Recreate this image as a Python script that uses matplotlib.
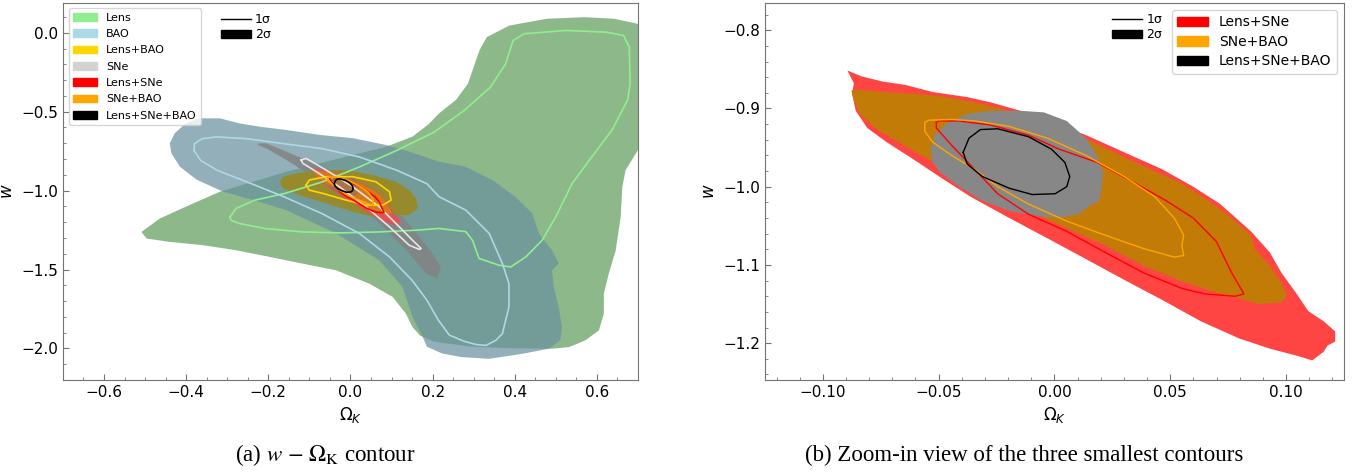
import numpy as np
import matplotlib.pyplot as plt
from matplotlib.patches import Patch
from matplotlib.lines import Line2D

# contour outlines (Omega_K, w)

# Lens 2-sigma
lens_2s = [(-0.509, -1.262), (-0.464, -1.177), (-0.401, -1.102), (-0.318, -1.007), (-0.237, -0.944),
           (-0.156, -0.880), (-0.075, -0.827), (0.006, -0.774), (0.087, -0.722), (0.151, -0.658),
           (0.19, -0.58), (0.216, -0.51), (0.257, -0.425), (0.286, -0.323), (0.314, -0.112),
           (0.332, -0.027), (0.387, 0.046), (0.478, 0.089), (0.569, 0.099), (0.642, 0.089),
           (0.693, 0.061), (0.72, 0.04), (0.72, -0.72), (0.70, -0.743), (0.67, -0.87),
           (0.662, -0.976), (0.658, -1.166), (0.646, -1.378), (0.629, -1.526), (0.617, -1.653),
           (0.617, -1.780), (0.605, -1.886), (0.572, -1.949), (0.532, -1.992), (0.491, -2.002),
           (0.40, -2.0), (0.296, -1.989), (0.204, -1.958),
           (0.17, -1.92), (0.151, -1.865), (0.135, -1.780), (0.103, -1.674), (0.046, -1.590),
           (-0.035, -1.505), (-0.116, -1.463), (-0.197, -1.420), (-0.278, -1.378), (-0.359, -1.346),
           (-0.44, -1.325), (-0.496, -1.304)]
lens_1s = [(-0.293, -1.167), (-0.279, -1.114), (-0.234, -1.061), (-0.161, -1.019), (-0.069, -0.945),
           (0.022, -0.850), (0.113, -0.745), (0.204, -0.629), (0.277, -0.492), (0.341, -0.344),
           (0.378, -0.196), (0.396, -0.049), (0.423, -0.006), (0.524, 0.015), (0.624, 0.004),
           (0.665, -0.017), (0.679, -0.091), (0.681, -0.323), (0.675, -0.425), (0.637, -0.616),
           (0.588, -0.785), (0.540, -0.954), (0.5, -1.166), (0.467, -1.314), (0.427, -1.42),
           (0.39, -1.484), (0.362, -1.473), (0.313, -1.43), (0.297, -1.314), (0.281, -1.26),
           (0.216, -1.24), (0.159, -1.251), (0.068, -1.262), (-0.024, -1.268), (-0.115, -1.262),
           (-0.206, -1.241), (-0.270, -1.209), (-0.291, -1.188)]

# BAO
bao_2s = [(-0.44, -0.701), (-0.428, -0.637), (-0.401, -0.574), (-0.369, -0.542), (-0.318, -0.542),
          (-0.27, -0.574), (-0.221, -0.595), (-0.156, -0.616), (-0.075, -0.647), (0.006, -0.668),
          (0.087, -0.711), (0.143, -0.753), (0.192, -0.796), (0.216, -0.817), (0.281, -0.849),
          (0.346, -0.934), (0.402, -1.04), (0.443, -1.145), (0.459, -1.272), (0.491, -1.378),
          (0.507, -1.462), (0.491, -1.505), (0.495, -1.611), (0.507, -1.737), (0.515, -1.864),
          (0.511, -1.949), (0.483, -2.002), (0.419, -2.034), (0.338, -2.066), (0.27, -2.055),
          (0.223, -2.032), (0.186, -1.989),
          (0.176, -1.928), (0.151, -1.801), (0.127, -1.611), (0.07, -1.441), (-0.035, -1.271),
          (-0.156, -1.124), (-0.237, -1.06), (-0.31, -1.007), (-0.375, -0.93), (-0.415, -0.849),
          (-0.436, -0.764)]
bao_1s = [(-0.381, -0.745), (-0.380, -0.703), (-0.361, -0.671), (-0.325, -0.660), (-0.252, -0.671),
          (-0.161, -0.703), (-0.069, -0.734), (0.022, -0.787), (0.113, -0.871), (0.186, -0.956),
          (0.216, -1.039), (0.281, -1.124), (0.338, -1.272), (0.37, -1.462), (0.386, -1.589),
          (0.386, -1.737), (0.37, -1.907), (0.354, -1.949), (0.33, -1.981), (0.305, -1.975),
          (0.277, -1.955), (0.241, -1.916), (0.214, -1.821), (0.186, -1.694), (0.150, -1.568),
          (0.095, -1.420), (0.022, -1.272), (-0.069, -1.146), (-0.161, -1.040), (-0.252, -0.945),
          (-0.325, -0.871), (-0.365, -0.808)]

# SNe
sne_2s = [(-0.225, -0.701), (-0.205, -0.701), (-0.156, -0.753), (-0.108, -0.806), (-0.059, -0.858),
          (0.006, -0.933), (0.07, -1.039), (0.127, -1.166), (0.168, -1.293), (0.2, -1.398),
          (0.22, -1.483), (0.212, -1.557), (0.184, -1.526), (0.143, -1.398), (0.095, -1.271),
          (0.038, -1.124), (-0.027, -1.018), (-0.091, -0.912), (-0.156, -0.806), (-0.205, -0.732),
          (-0.225, -0.711)]
sne_1s = [(-0.12, -0.806), (-0.108, -0.796), (-0.059, -0.87), (0.006, -0.976), (0.07, -1.102),
          (0.119, -1.23), (0.151, -1.314), (0.172, -1.367), (0.168, -1.373), (0.143, -1.346),
          (0.095, -1.23), (0.038, -1.102), (-0.027, -0.976), (-0.083, -0.88), (-0.116, -0.827)]

# Lens+BAO
lb_2s = [(-0.172, -0.944), (-0.164, -0.912), (-0.132, -0.891), (-0.075, -0.87), (-0.011, -0.87),
         (0.054, -0.901), (0.111, -0.944), (0.143, -0.997), (0.16, -1.05), (0.164, -1.113),
         (0.143, -1.155), (0.103, -1.155), (0.054, -1.166), (0.006, -1.134), (-0.059, -1.081),
         (-0.124, -1.028), (-0.164, -0.986)]
lb_1s = [(-0.108, -0.965), (-0.1, -0.933), (-0.059, -0.912), (0.006, -0.912), (0.062, -0.944),
         (0.095, -1.007), (0.099, -1.06), (0.079, -1.092), (0.038, -1.092), (-0.011, -1.06),
         (-0.067, -1.018), (-0.1, -0.997)]

# Lens+SNe
ls_2s = [(-0.0894, -0.8515), (-0.0833, -0.859), (-0.0742, -0.8656), (-0.0642, -0.870), (-0.0526, -0.879),
         (-0.0377, -0.8855), (-0.0278, -0.892), (-0.0146, -0.903), (-0.003, -0.916), (0.0136, -0.934),
         (0.0301, -0.956), (0.0467, -0.978), (0.0599, -1.0), (0.0715, -1.022), (0.0848, -1.057),
         (0.093, -1.084), (0.098, -1.110), (0.1046, -1.137), (0.1096, -1.159), (0.1162, -1.172),
         (0.1212, -1.185), (0.1212, -1.198), (0.1179, -1.203), (0.1162, -1.211), (0.1113, -1.222),
         (0.1046, -1.216), (0.093, -1.207), (0.0798, -1.194), (0.0632, -1.172), (0.0467, -1.145),
         (0.0301, -1.119), (0.0136, -1.0925), (-0.003, -1.066), (-0.0195, -1.040), (-0.0361, -1.013),
         (-0.0477, -0.991), (-0.0609, -0.965), (-0.0725, -0.943), (-0.0808, -0.925), (-0.0858, -0.903),
         (-0.0874, -0.881), (-0.0866, -0.868)]
ls_1s = [(-0.051, -0.918), (-0.0502, -0.916), (-0.0411, -0.916), (-0.0278, -0.921), (-0.0113, -0.934),
         (0.002, -0.952), (0.0185, -0.969), (0.0351, -0.996), (0.0483, -1.018), (0.0599, -1.040),
         (0.0699, -1.070), (0.0765, -1.110), (0.0818, -1.137), (0.0781, -1.140), (0.0649, -1.137),
         (0.055, -1.130), (0.0384, -1.110), (0.0219, -1.084), (0.0053, -1.057), (-0.0113, -1.035),
         (-0.0245, -1.009), (-0.0344, -0.978), (-0.0444, -0.947), (-0.051, -0.925)]

# SNe+BAO
sb_2s = [(-0.0877, -0.877), (-0.0841, -0.876), (-0.0742, -0.879), (-0.0609, -0.881), (-0.0477, -0.885),
         (-0.0344, -0.892), (-0.0245, -0.899), (-0.0113, -0.912), (0.002, -0.925), (0.0152, -0.941),
         (0.0285, -0.960), (0.0417, -0.978), (0.055, -0.996), (0.0666, -1.018), (0.0765, -1.040),
         (0.0848, -1.062), (0.0864, -1.079), (0.093, -1.101), (0.098, -1.123), (0.1005, -1.139),
         (0.098, -1.148), (0.0881, -1.150), (0.0798, -1.143), (0.0682, -1.134), (0.055, -1.121),
         (0.0384, -1.101), (0.0219, -1.075), (0.0053, -1.053), (-0.0113, -1.031), (-0.0278, -1.009),
         (-0.0411, -0.987), (-0.0543, -0.965), (-0.0675, -0.943), (-0.0775, -0.925), (-0.0841, -0.907),
         (-0.0866, -0.890)]
sb_1s = [(-0.056, -0.918), (-0.0543, -0.915), (-0.0444, -0.914), (-0.0344, -0.916), (-0.0195, -0.923),
         (-0.003, -0.938), (0.0136, -0.960), (0.0301, -0.987), (0.0434, -1.013), (0.0517, -1.040),
         (0.0558, -1.062), (0.055, -1.075), (0.0558, -1.088), (0.0517, -1.090), (0.0384, -1.079),
         (0.0219, -1.062), (0.0053, -1.044), (-0.0113, -1.022), (-0.0245, -1.0), (-0.0344, -0.978),
         (-0.0444, -0.960), (-0.0526, -0.943), (-0.056, -0.929)]

# Lens+SNe+BAO
all_2s = [(-0.0535, -0.952), (-0.0518, -0.934), (-0.046, -0.918), (-0.0377, -0.907), (-0.0278, -0.903),
          (-0.0146, -0.903), (-0.0046, -0.905), (0.0053, -0.916), (0.0136, -0.938), (0.0185, -0.960),
          (0.021, -0.982), (0.0202, -1.004), (0.0194, -1.018), (0.0152, -1.024), (0.0103, -1.035),
          (0.002, -1.040), (-0.0079, -1.037), (-0.0195, -1.031), (-0.0311, -1.018), (-0.0411, -1.0),
          (-0.0493, -0.982), (-0.0526, -0.969)]
all_1s = [(-0.0394, -0.956), (-0.0369, -0.938), (-0.032, -0.927), (-0.0245, -0.926), (-0.0113, -0.936),
          (-0.0013, -0.952), (0.0045, -0.969), (0.0066, -0.987), (0.0053, -1.0), (0.0003, -1.009),
          (-0.0096, -1.010), (-0.0195, -1.002), (-0.0311, -0.987), (-0.0377, -0.971)]

labels_all = ['Lens', 'BAO', 'Lens+BAO', 'SNe', 'Lens+SNe', 'SNe+BAO', 'Lens+SNe+BAO']
colors_all = ['lightgreen', 'lightblue', 'gold', 'lightgray', 'red', 'orange', 'black']


def fill(ax, pts, **kw):
    p = np.array(pts)
    ax.fill(p[:, 0], p[:, 1], lw=0, **kw)


def line(ax, pts, **kw):
    p = np.array(pts + pts[:1])
    ax.plot(p[:, 0], p[:, 1], **kw)


def style(ax):
    ax.minorticks_on()
    ax.tick_params(which='both', direction='in', color='0.45', labelsize=11)
    ax.tick_params(which='major', length=4)
    ax.tick_params(which='minor', length=2)
    for s in ax.spines.values():
        s.set_color('0.45')
    ax.set_xlabel(r'$\Omega_K$', fontsize=12)
    ax.set_ylabel(r'$w$', fontsize=12)


def sigma_legend(ax, pos):
    h = [Line2D([], [], color='black', lw=1), Patch(color='black')]
    leg = ax.legend(h, ['1σ', '2σ'], loc='upper left', bbox_to_anchor=pos, frameon=False,
                    fontsize=9, handlelength=2.4, handleheight=0.6, labelspacing=0.15,
                    handletextpad=0.3, borderpad=0.2)
    ax.add_artist(leg)


fig = plt.figure(figsize=(13.57, 4.72), dpi=100)
ax1 = fig.add_axes([0.0464, 0.195, 0.4237, 0.799])
ax2 = fig.add_axes([0.5637, 0.195, 0.4267, 0.799])

# (a) all contours
fill(ax1, lens_2s, color='#8db98a')
fill(ax1, bao_2s, color='#69919e', alpha=0.72)
fill(ax1, sne_2s, color='#838383', alpha=0.85)
fill(ax1, lb_2s, color='#968a2d')
fill(ax1, ls_2s, color='#dd5555')
fill(ax1, sb_2s, color='#d4791c')
fill(ax1, all_2s, color='#8a7060', alpha=0.55)
line(ax1, lens_1s, color='lightgreen', lw=1.2)
line(ax1, bao_1s, color='lightblue', lw=1.2)
line(ax1, sne_1s, color='#e6e6e6', lw=1.2)
line(ax1, lb_1s, color='gold', lw=1.2)
line(ax1, ls_1s, color='red', lw=1.2)
line(ax1, sb_1s, color='orange', lw=1.2)
line(ax1, all_1s, color='black', lw=1.2)
ax1.set_xlim(-0.7, 0.7)
ax1.set_ylim(-2.2, 0.19)
style(ax1)
sigma_legend(ax1, (0.26, 0.995))
ax1.legend([Patch(color=c) for c in colors_all], labels_all, loc='upper left', fontsize=8,
           handlelength=2.2, labelspacing=0.57, borderpad=0.4)

# (b) zoom on the three smallest contours
fill(ax2, ls_2s, color='#ff4444')
fill(ax2, sb_2s, color='#c27b07')
fill(ax2, all_2s, color='#878787')
line(ax2, ls_1s, color='red', lw=1)
line(ax2, sb_1s, color='orange', lw=1)
line(ax2, all_1s, color='black', lw=1)
ax2.set_xlim(-0.125, 0.125)
ax2.set_ylim(-1.247, -0.765)
style(ax2)
sigma_legend(ax2, (0.585, 0.995))
ax2.legend([Patch(color=c) for c in colors_all[4:]], labels_all[4:], loc='upper right',
           fontsize=10, handlelength=2.2, labelspacing=0.4)

cap = dict(ha='center', va='center', fontsize=16.5, family='Liberation Serif', math_fontfamily='stix')
fig.text(0.24, 0.035, r'(a) $w$ $-$ $\Omega_{\mathrm{K}}$ contour', **cap)
fig.text(0.755, 0.035, '(b) Zoom-in view of the three smallest contours', **cap)

fig.savefig('out.png', dpi=100)
